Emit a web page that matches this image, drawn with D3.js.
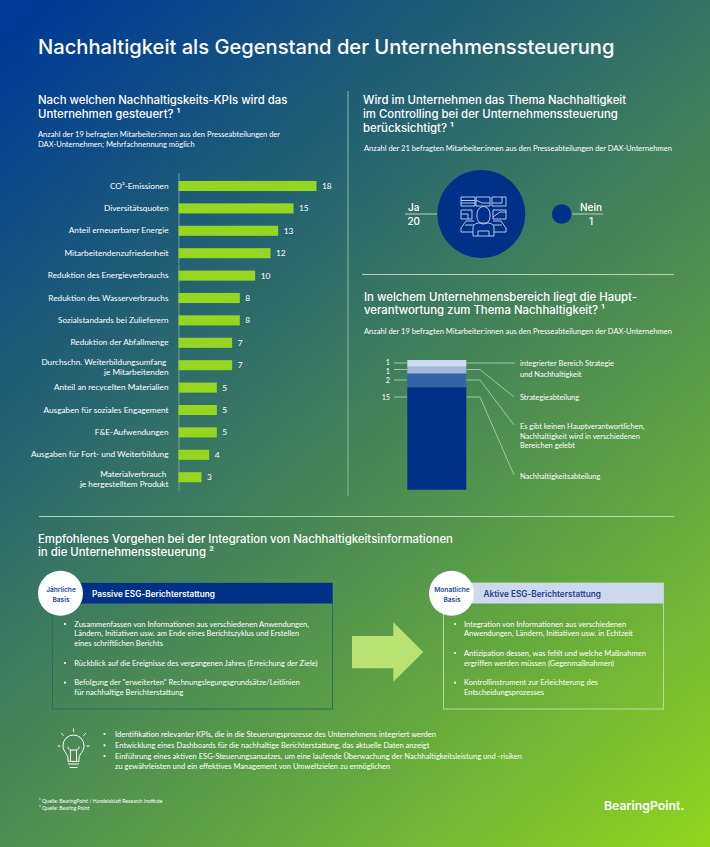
<!DOCTYPE html>
<html lang="de">
<head>
<meta charset="utf-8">
<title>Nachhaltigkeit als Gegenstand der Unternehmenssteuerung</title>
<script src="https://cdn.jsdelivr.net/npm/d3@7"></script>
<style>
  body { margin: 0; }
  svg { display: block; }
  text { fill: #fff; font-family: Lato, sans-serif; }
  .head { font-family: Inter, sans-serif; font-weight: 500; }
  .badge { font-family: Inter, sans-serif; font-weight: 600; }
</style>
</head>
<body>
<div id="chart"></div>
<script>
// KPI bars
var kpiLabels = ["CO²-Emissionen", "Diversitätsquoten", "Anteil erneuerbarer Energie", "Mitarbeitendenzufriedenheit",
    "Reduktion des Energieverbrauchs", "Reduktion des Wasserverbrauchs", "Sozialstandards bei Zulieferern",
    "Reduktion der Abfallmenge", "Durchschn. Weiterbildungsumfang \nje Mitarbeitenden", "Anteil an recycelten Materialien",
    "Ausgaben für soziales Engagement", "F&E-Aufwendungen", "Ausgaben für Fort- und Weiterbildung",
    "Materialverbrauch \nje hergestelltem Produkt"];
var kpiValues = [18, 15, 13, 12, 10, 8, 8, 7, 7, 5, 5, 5, 4, 3];

// Ja / Nein bubbles
var answerLabels = ["Ja", "Nein"];
var answerValues = [20, 1];

// stacked bar, top to bottom
var respValues = [1, 1, 2, 15];
var respColors = ["#cfdcef", "#a3b8dd", "#3563a8", "#003087"];

var svg = d3.select("#chart").append("svg")
    .attr("width", 710)
    .attr("height", 847);

// background
var grad = svg.append("defs").append("linearGradient")
    .attr("id", "bg")
    .attr("gradientUnits", "userSpaceOnUse")
    .attr("x1", 0).attr("y1", 0)
    .attr("x2", 710).attr("y2", 847);
[[0.03, "#003a98"], [0.25, "#1c5a78"], [0.5, "#42815b"], [0.75, "#65aa3e"], [1, "#90d61e"]].forEach(function(s) {
    grad.append("stop").attr("offset", s[0]).attr("stop-color", s[1]);
});
svg.append("rect").attr("width", 710).attr("height", 847).attr("fill", "url(#bg)");

// text helper: lines are centred on the y values given
function lines(rows, x, size, cls, anchor, fill) {
    rows.forEach(function(r) {
        svg.append("text")
            .attr("class", cls || null)
            .attr("x", x)
            .attr("y", r[0])
            .attr("dy", "0.35em")
            .attr("font-size", size)
            .attr("text-anchor", anchor || "start")
            .style("fill", fill || null)
            .text(r[1]);
    });
}

function rule(x1, y1, x2, y2, color, w) {
    svg.append("line").attr("x1", x1).attr("y1", y1).attr("x2", x2).attr("y2", y2)
        .attr("stroke", color || "#b5d6b0").attr("stroke-width", w || 1);
}

// headings
lines([[47, "Nachhaltigkeit als Gegenstand der Unternehmenssteuerung"]], 38, 20.15, "head");
lines([[100, "Nach welchen Nachhaltigskeits-KPIs wird das"], [114, "Unternehmen gesteuert? ¹"]], 38, 11.38, "head");
lines([[134, "Anzahl der 19 befragten Mitarbeiter:innen aus den Presseabteilungen der"],
       [144, "DAX-Unternehmen; Mehrfachnennung möglich"]], 38, 7.55);
lines([[100, "Wird im Unternehmen das Thema Nachhaltigkeit"], [114, "im Controlling bei der Unternehmenssteuerung"],
       [128, "berücksichtigt? ¹"]], 363, 11.38, "head");
lines([[148, "Anzahl der 21 befragten Mitarbeiter:innen aus den Presseabteilungen der DAX-Unternehmen"]], 364, 7.55);
lines([[297, "In welchem Unternehmensbereich liegt die Haupt-"], [310.5, "verantwortung zum Thema Nachhaltigkeit? ¹"]], 364, 11.38, "head");
lines([[331, "Anzahl der 19 befragten Mitarbeiter:innen aus den Presseabteilungen der DAX-Unternehmen"]], 364, 7.55);
lines([[539, "Empfohlenes Vorgehen bei der Integration von Nachhaltigkeitsinformationen"],
       [552.5, "in die Unternehmenssteuerung ²"]], 38, 11.38, "head");

// dividers
rule(348, 91, 348, 496, "#8fb8a0");
rule(362, 274.5, 674, 274.5);
rule(39, 516.5, 674, 516.5);

// KPI bar chart
var xKpi = d3.scaleLinear().domain([0, 18]).range([178.5, 316.5]);
var yKpi = d3.scaleBand().domain(kpiLabels).range([172.6, 490.6]).paddingInner(0.55).paddingOuter(0.373);

var kpiAxis = svg.append("g")
    .attr("transform", "translate(178.5,0)")
    .call(d3.axisLeft(yKpi).tickSize(0).tickPadding(10));
kpiAxis.select(".domain").attr("stroke", "#8fb8a0").attr("stroke-width", 0.7);
kpiAxis.selectAll("text")
    .attr("font-size", 8.25)
    .each(function(d) {
        var parts = d.split("\n");
        if (parts.length < 2) return;
        var t = d3.select(this).text(null);
        parts.forEach(function(p, i) {
            t.append("tspan").attr("x", -10).attr("dy", i ? "1.17em" : "0em").style("white-space", "pre").text(p);
        });
    });

svg.append("g").selectAll("rect")
    .data(kpiValues)
    .enter()
    .append("rect")
    .attr("x", xKpi(0))
    .attr("y", function(d, i) { return yKpi(kpiLabels[i]); })
    .attr("width", function(d) { return xKpi(d) - xKpi(0); })
    .attr("height", yKpi.bandwidth())
    .attr("fill", "#95d621");

svg.append("g").selectAll("text")
    .data(kpiValues)
    .enter()
    .append("text")
    .attr("x", function(d) { return xKpi(d) + 5.5; })
    .attr("y", function(d, i) { return yKpi(kpiLabels[i]) + yKpi.bandwidth() / 2; })
    .attr("dy", "0.35em")
    .attr("font-size", 8.4)
    .text(function(d) { return d; });

// bubbles, area follows the count
var rAnswer = d3.scaleSqrt().domain([0, 20]).range([0, 44]);
var xAnswer = d3.scaleOrdinal().domain(answerLabels).range([481.3, 561.7]);
var answerText = d3.scaleOrdinal().domain(answerLabels).range([413.7, 591]);
var answerRule = d3.scaleOrdinal().domain(answerLabels).range([[405, 437], [572, 603]]);

answerLabels.forEach(function(name, i) {
    rule(answerRule(name)[0], 214, answerRule(name)[1], 214, "#b5d6b0");
    svg.append("circle")
        .attr("cx", xAnswer(name))
        .attr("cy", 214)
        .attr("r", rAnswer(answerValues[i]))
        .attr("fill", "#003087");
    lines([[207, name], [221, answerValues[i]]], answerText(name), 10, "head", "middle");
});

// controller icon
var icon = svg.append("g").attr("fill", "none").attr("stroke", "#c6d5ee").attr("stroke-width", 0.9).attr("stroke-linejoin", "round");
[[461, 197, 14, 9], [476, 197, 14, 9], [492, 197, 14, 9], [461, 210, 11, 9], [493, 210, 13, 9]].forEach(function(r) {
    icon.append("rect").attr("x", r[0]).attr("y", r[1]).attr("width", r[2]).attr("height", r[3]);
});
icon.append("path").attr("d", "M461 200.5h14M461 203h14M476 200l6 3h8M492 203h10v-6M493 217l7-5h6M461 214h7v5");
icon.append("path").attr("d", "M477 214a6.5 7.5 0 0 1 13 0v3a6.5 7 0 0 1-13 0z");
icon.append("path").attr("d", "M473 236v-8q0-4 5-5h11q5 1 5 5v8zM478 236v-5h11v5");
icon.append("path").attr("d", "M474 221h-8l-5 7v4h12M493 221h8l5 7v4h-12M465 225h9M493 225h9");

// stacked bar
var yResp = d3.scaleLinear().domain([0, 19]).range([360, 489.7]);
var stacked = d3.stack().keys(d3.range(respValues.length))([respValues]);
var respRows = [[363, 515, 363], [369.5, 514, 397], [380, 514, 425], [397, 514, 475]];
var respLabelY = [362.2, 371.2, 380.5, 397.7];

stacked.forEach(function(s, i) {
    var y0 = yResp(s[0][0]), y1 = yResp(s[0][1]);
    svg.append("rect")
        .attr("x", 407.3).attr("width", 59)
        .attr("y", y0).attr("height", y1 - y0)
        .attr("fill", respColors[i]);
    var ly = respRows[i][0];
    rule(394, ly, 407, ly, "#b5d6b0", 0.8);
    svg.append("path")
        .attr("d", i === 0 ? d3.line()([[466.5, ly], [515, ly]])
                           : d3.line()([[466.5, ly], [480, ly], [respRows[i][1], respRows[i][2]]]))
        .attr("fill", "none")
        .attr("stroke", "#b5d6b0")
        .attr("stroke-width", 0.8);
    lines([[respLabelY[i], respValues[i]]], 390, 7.2, null, "end");
});
lines([[363, "integrierter Bereich Strategie"], [374.5, "und Nachhaltigkeit"], [397.5, "Strategieabteilung"],
       [426, "Es gibt keinen Hauptverantwortlichen,"], [436, "Nachhaltigkeit wird in verschiedenen"],
       [445.5, "Bereichen gelebt"], [476.5, "Nachhaltigkeitsabteilung"]], 520, 7.45);

// ESG boxes
function box(x, w, headFill, border, badge, title, titleFill, titleX) {
    svg.append("rect").attr("x", x).attr("y", 583).attr("width", w).attr("height", 126)
        .attr("fill", "none").attr("stroke", border).attr("stroke-width", 1);
    svg.append("rect").attr("x", x).attr("y", 583).attr("width", w).attr("height", 20.5).attr("fill", headFill);
    svg.append("circle").attr("cx", x + 8).attr("cy", 593.3).attr("r", 22.5).attr("fill", "#fff");
    lines([[590, badge[0]], [599.5, badge[1]]], x + 8.5, 6.6, "badge", "middle", "#1f4a96");
    lines([[594, title]], titleX, 8.25, "badge", "start", titleFill);
}
box(52.5, 280, "#003087", "#2c6b60", ["Jährliche", "Basis"], "Passive ESG-Berichterstattung", "#fff", 92);
box(443.5, 220, "#cdd9ee", "#b6dc9a", ["Monatliche", "Basis"], "Aktive ESG-Berichterstattung", "#1f3f8c", 483.5);

function bullets(rows, bx, tx, size) {
    rows.forEach(function(r) {
        if (r[2]) svg.append("circle").attr("cx", bx).attr("cy", r[0]).attr("r", 1.1).attr("fill", "#fff");
    });
    lines(rows, tx, size);
}
bullets([[624, "Zusammenfassen von Informationen aus verschiedenen Anwendungen,", 1],
         [633.7, "Ländern, Initiativen usw. am Ende eines Berichtszyklus und Erstellen"],
         [643.3, "eines schriftlichen Berichts"],
         [663, "Rückblick auf die Ereignisse des vergangenen Jahres (Erreichung der Ziele)", 1],
         [682.7, "Befolgung der \"erweiterten\" Rechnungslegungsgrundsätze/Leitlinien", 1],
         [692.3, "für nachhaltige Berichterstattung"]], 65, 74.3, 7.55);
bullets([[624, "Integration von Informationen aus verschiedenen", 1],
         [633.7, "Anwendungen, Ländern, Initiativen usw. in Echtzeit"],
         [653, "Antizipation dessen, was fehlt und welche Maßnahmen", 1],
         [663, "ergriffen werden müssen (Gegenmaßnahmen)"],
         [682.7, "Kontrollinstrument zur Erleichterung des", 1],
         [692.3, "Entscheidungsprozesses"]], 455, 464, 7.55);

// arrow between the boxes
svg.append("path")
    .attr("d", d3.line()([[352, 636], [393.3, 636], [393.3, 622.3], [423.3, 652], [393.3, 681.7], [393.3, 668.3], [352, 668.3]]))
    .attr("fill", "#b9e272");

// light bulb
var bulb = svg.append("g").attr("fill", "none").attr("stroke", "#fff").attr("stroke-width", 1).attr("stroke-linecap", "round");
bulb.append("path").attr("d", "M68 761v-3c0-4-5-6-5-12.500a10.500 10.500 0 0 1 21 0c0 6.500-5 8.500-5 12.500v3z");
bulb.append("path").attr("d", "M68.500 764h10M70 767.500h7");
bulb.append("path").attr("d", "M70.500 761v-11h6v11M68 747a2.500 2.500 0 0 0 2.500 3M79 747a2.500 2.500 0 0 1-2.500 3");
bulb.append("path").attr("d", "M73.500 729v2.500M61.500 733.500l1.800 1.800M85.500 733.500l-1.800 1.800M58 746h2M87 746h2");

bullets([[734, "Identifikation relevanter KPIs, die in die Steuerungsprozesse des Unternehmens integriert werden", 1],
         [745.3, "Entwicklung eines Dashboards für die nachhaltige Berichterstattung, das aktuelle Daten anzeigt", 1],
         [756, "Einführung eines aktiven ESG-Steuerungsansatzes, um eine laufende Überwachung der Nachhaltigkeitsleistung und -risiken", 1],
         [766.3, "zu gewährleisten und ein effektives Management von Umweltzielen zu ermöglichen"]], 104.5, 115, 7.55);

// footer
lines([[801.7, "¹ Quelle: BearingPoint / Handelsblatt Research Institute"], [808.7, "² Quelle: Bearing Point"]], 39, 5.1);
lines([[806, "BearingPoint."]], 604, 12.3, "badge");
</script>
</body>
</html>
